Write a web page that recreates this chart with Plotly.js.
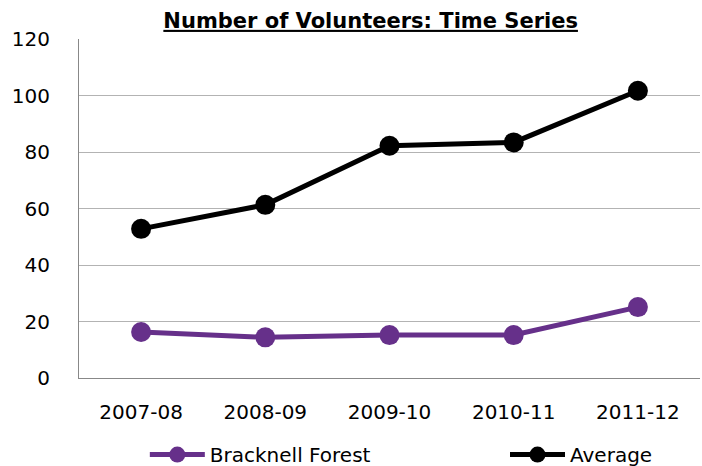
<!DOCTYPE html>
<html><head><meta charset="utf-8">
<script src="https://cdn.plot.ly/plotly-3.0.1.min.js"></script>
<style>html,body{margin:0;padding:0;background:#fff;}#chart{width:702px;height:466px;}</style>
</head><body><div id="chart"></div>
<script>
const categories = ["2007-08", "2008-09", "2009-10", "2010-11", "2011-12"];
const bracknell = [16.3, 14.4, 15.2, 15.2, 25.1];
const average = [52.8, 61.3, 82.2, 83.4, 101.7];
const yTicks = [0, 20, 40, 60, 80, 100, 120];

const font = "DejaVu Sans, Verdana, sans-serif";
const traces = [
  {x: categories, y: bracknell, name: "Bracknell Forest", type: "scatter", mode: "lines+markers",
   line: {color: "#66308a", width: 5}, marker: {color: "#66308a", size: 20}, legend: "legend"},
  {x: categories, y: average, name: "Average", type: "scatter", mode: "lines+markers",
   line: {color: "#000000", width: 5}, marker: {color: "#000000", size: 20}, legend: "legend2"}
];
const legendBase = {orientation: "h", y: -0.226, yanchor: "middle", xanchor: "left",
  itemwidth: 55, font: {family: font, size: 20}, bgcolor: "rgba(0,0,0,0)"};
const layout = {
  width: 702, height: 466,
  margin: {l: 79, r: 2, t: 39, b: 88, autoexpand: false},
  paper_bgcolor: "#fff", plot_bgcolor: "#fff",
  font: {family: font, size: 20, color: "#000"},
  title: {text: "<b><u>Number of Volunteers: Time Series</u></b>", font: {family: font, size: 21, color: "#000"},
          x: 0.528, xanchor: "center", y: 0.956, yanchor: "middle"},
  xaxis: {type: "category", range: [-0.5, 4.5], showgrid: false, zeroline: false,
          showline: true, linecolor: "#888", linewidth: 1, ticks: "", ticklabelstandoff: 16,
          tickfont: {family: font, size: 20}},
  yaxis: {range: [0, 120], tickvals: yTicks, showgrid: true, gridcolor: "#b3b3b3", gridwidth: 1,
          zeroline: false, showline: true, linecolor: "#888", linewidth: 1, ticks: "",
          ticklabelstandoff: 24, tickfont: {family: font, size: 20}},
  showlegend: true,
  legend: Object.assign({}, legendBase, {x: 0.106}),
  legend2: Object.assign({}, legendBase, {x: 0.686})
};
Plotly.newPlot("chart", traces, layout, {staticPlot: true, displayModeBar: false});
</script></body></html>
